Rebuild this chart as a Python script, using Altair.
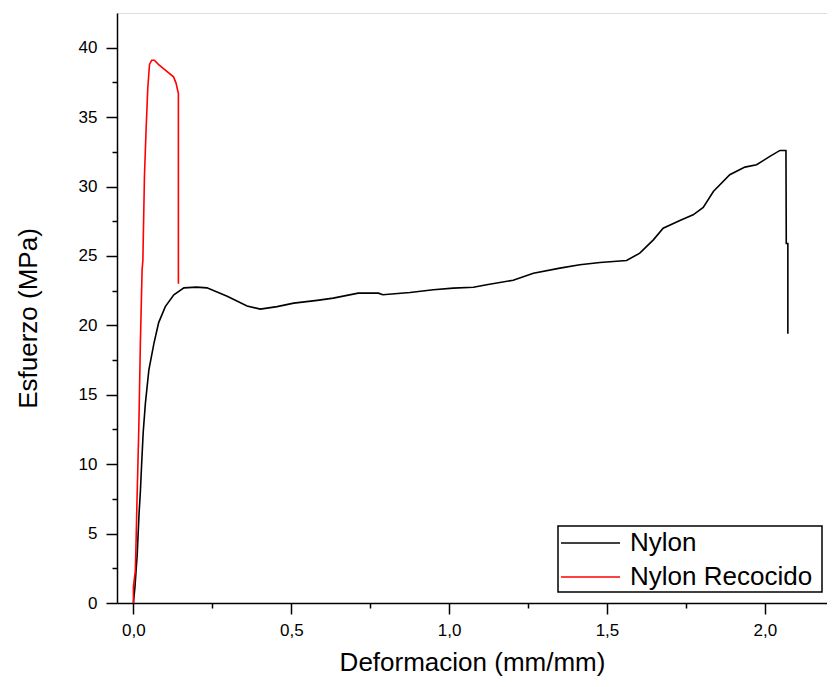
import altair as alt
import pandas as pd

series_names = ["Nylon", "Nylon Recocido"]
series_colors = ["#000000", "#ff0000"]

nylon_x = [0.0, 0.005, 0.012, 0.015, 0.018, 0.022, 0.026, 0.031, 0.038, 0.049, 0.065, 0.080, 0.101,
           0.128, 0.16, 0.20, 0.233, 0.297, 0.36, 0.402, 0.455, 0.508, 0.582, 0.633, 0.712, 0.776,
           0.79, 0.876, 0.95, 1.013, 1.077, 1.119, 1.203, 1.267, 1.351, 1.414, 1.478, 1.562, 1.604,
           1.647, 1.678, 1.731, 1.773, 1.805, 1.837, 1.889, 1.937, 1.974, 2.016, 2.048, 2.067,
           2.068, 2.073, 2.073]
nylon_y = [0.0, 1.2, 3.5, 5.0, 6.5, 8.0, 10.0, 12.3, 14.4, 16.8, 18.7, 20.2, 21.35,
           22.2, 22.7, 22.75, 22.7, 22.1, 21.4, 21.17, 21.35, 21.6, 21.8, 21.96, 22.32, 22.32,
           22.2, 22.37, 22.56, 22.68, 22.75, 22.92, 23.25, 23.76, 24.12, 24.36, 24.53, 24.67, 25.2,
           26.16, 27.0, 27.55, 27.96, 28.5, 29.64, 30.85, 31.4, 31.57, 32.17, 32.6, 32.6,
           25.9, 25.9, 19.4]

rec_x = [0.0, 0.0, 0.006, 0.008, 0.012, 0.017, 0.022, 0.0275, 0.03, 0.035, 0.040, 0.0455,
         0.051, 0.058, 0.0665, 0.079, 0.106, 0.127, 0.135, 0.1425, 0.1425]
rec_y = [0.0, 1.2, 2.3, 4.0, 8.0, 12.5, 18.7, 24.0, 24.7, 30.8, 34.0, 37.1,
         38.8, 39.1, 39.1, 38.8, 38.3, 37.9, 37.45, 36.7, 23.0]

x_ticks = [0.0, 0.25, 0.5, 0.75, 1.0, 1.25, 1.5, 1.75, 2.0]
y_ticks = [0, 2.5, 5, 7.5, 10, 12.5, 15, 17.5, 20, 22.5, 25, 27.5, 30, 32.5, 35, 37.5, 40]

rows = []
for i, (x, y) in enumerate(zip(nylon_x, nylon_y)):
    rows.append({"serie": series_names[0], "x": x, "y": y, "i": i})
for i, (x, y) in enumerate(zip(rec_x, rec_y)):
    rows.append({"serie": series_names[1], "x": x, "y": y, "i": i})
df = pd.DataFrame(rows)

legend_df = pd.DataFrame({"serie": series_names, "row": list(range(len(series_names)))})

FONT = "Liberation Sans"

x_axis = alt.Axis(
    values=x_ticks,
    labelExpr="datum.value % 0.5 == 0 ? replace(format(datum.value, '.1f'), '.', ',') : ''",
    tickSize={"condition": {"test": "datum.value % 0.5 == 0", "value": 11}, "value": 5},
    tickColor="#000000", tickWidth=1.5, domainColor="#000000", domainWidth=1.5,
    labelFont=FONT, labelFontSize=17, labelColor="#000000", labelPadding=8,
    labelFlush=False, grid=False,
    title="Deformacion (mm/mm)", titleFont=FONT, titleFontSize=26, titleFontWeight="normal",
    titleColor="#000000", titleBaseline="alphabetic", titleY=67,
)
y_axis = alt.Axis(
    values=y_ticks,
    labelExpr="datum.value % 5 == 0 ? format(datum.value, 'd') : ''",
    tickSize={"condition": {"test": "datum.value % 5 == 0", "value": 11}, "value": 5},
    tickColor="#000000", tickWidth=1.5, domainColor="#000000", domainWidth=1.5,
    labelFont=FONT, labelFontSize=17, labelColor="#000000", labelPadding=9,
    labelFlush=False, grid=False,
    title="Esfuerzo (MPa)", titleFont=FONT, titleFontSize=26, titleFontWeight="normal",
    titleColor="#000000", titleAngle=270, titleBaseline="middle", titleAlign="center",
    titleX=-89, titleY=305,
)

color_scale = alt.Scale(domain=series_names, range=series_colors)

lines = alt.Chart(df).mark_line(strokeWidth=1.6, interpolate="linear").encode(
    x=alt.X("x:Q", scale=alt.Scale(domain=[-0.052, 2.197], nice=False, zero=False), axis=x_axis),
    y=alt.Y("y:Q", scale=alt.Scale(domain=[0, 42.5], nice=False, zero=False), axis=y_axis),
    color=alt.Color("serie:N", scale=color_scale, legend=None),
    order="i:Q",
    detail="serie:N",
)

# legend (box, sample lines, labels)
LX, LY, LW, LH = 441, 513, 264, 66
ROW0, ROWSTEP = 17, 34

legend_box = alt.Chart(pd.DataFrame({"k": [0]})).mark_rect(
    fill="white", stroke="#000000", strokeWidth=1.5
).encode(
    x=alt.value(LX), x2=alt.value(LX + LW), y=alt.value(LY), y2=alt.value(LY + LH)
)

legend_lines = alt.Chart(legend_df).transform_calculate(
    py=f"{LY + ROW0} + datum.row * {ROWSTEP}"
).mark_rule(strokeWidth=1.5).encode(
    x=alt.value(LX + 3), x2=alt.value(LX + 62),
    y=alt.Y("py:Q", scale=None),
    color=alt.Color("serie:N", scale=color_scale, legend=None),
)

legend_text = alt.Chart(legend_df).transform_calculate(
    py=f"{LY + ROW0} + datum.row * {ROWSTEP}"
).mark_text(
    align="left", baseline="middle", font=FONT, fontSize=26, color="#000000"
).encode(
    x=alt.value(LX + 72),
    y=alt.Y("py:Q", scale=None),
    text="serie:N",
)

chart = alt.layer(lines, legend_box, legend_lines, legend_text).properties(
    width=710, height=590,
    padding={"left": 109, "top": 5, "right": 0, "bottom": 76},
    autosize=alt.AutoSizeParams(type="none"),
).configure_view(stroke=None).configure(background="white")

chart.save("out.html", embed_options={"renderer": "svg", "actions": False})
